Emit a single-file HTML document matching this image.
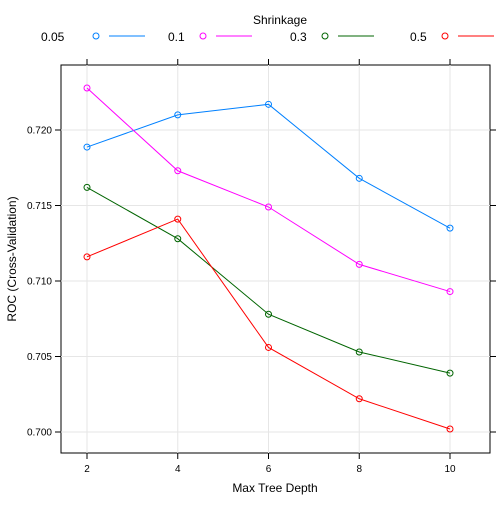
<!DOCTYPE html>
<html><head><meta charset="utf-8"><style>
body{margin:0;background:#fff;}
svg{font-family:"Liberation Sans",sans-serif;}
</style></head><body>
<svg id="chart" width="504" height="504" xmlns="http://www.w3.org/2000/svg">
<text x="280" y="24" font-size="12" text-anchor="middle">Shrinkage</text>
<g id="legend"></g>
<rect x="61" y="65" width="429" height="388" fill="none" stroke="#000" stroke-width="1"/>
<g id="grid"></g><g id="axes"></g><g id="series"></g>
<text x="275" y="492" font-size="12" text-anchor="middle">Max Tree Depth</text>
<text transform="translate(16,259) rotate(-90)" font-size="12" text-anchor="middle">ROC (Cross-Validation)</text>
</svg>
<script>
const depths=[2,4,6,8,10];
const seriesNames=["0.05","0.1","0.3","0.5"];
const s005=[0.71887,0.7210,0.7217,0.7168,0.7135];
const s01=[0.72278,0.7173,0.7149,0.7111,0.7093];
const s03=[0.7162,0.7128,0.7078,0.7053,0.7039];
const s05=[0.7116,0.7141,0.7056,0.7022,0.7002];
const xTicks=[2,4,6,8,10];
const yTicks=[0.700,0.705,0.710,0.715,0.720];
const colors=["#0080ff","#ff00ff","#006400","#ff0000"];
const allSeries=[s005,s01,s03,s05];
const NS="http://www.w3.org/2000/svg";
function xS(v){return 87+(v-2)*(450-87)/8;}
function yS(v){return 432-(v-0.700)*(432-130)/0.020;}
function mk(t,a,p){const e=document.createElementNS(NS,t);for(const k in a)e.setAttribute(k,a[k]);p.appendChild(e);return e;}
const grid=document.getElementById('grid'),axes=document.getElementById('axes'),ser=document.getElementById('series'),leg=document.getElementById('legend');
xTicks.forEach(t=>{const x=xS(t);
 let g=mk('line',{x1:x,x2:x,y1:65,y2:453,stroke:'#e6e6e6'},grid);
 
 mk('line',{x1:x,x2:x,y1:453,y2:459,stroke:'#000'},axes);
 mk('line',{x1:x,x2:x,y1:65,y2:59,stroke:'#000'},axes);
 let tx=mk('text',{x:x,y:472,'font-size':10,'text-anchor':'middle'},axes);tx.textContent=t;
 });
yTicks.forEach(t=>{const y=yS(t);
 let g=mk('line',{x1:61,x2:490,y1:y,y2:y,stroke:'#e6e6e6'},grid);
 
 mk('line',{x1:55,x2:61,y1:y,y2:y,stroke:'#000'},axes);
 mk('line',{x1:490,x2:496,y1:y,y2:y,stroke:'#000'},axes);
 let tx=mk('text',{x:52,y:y+3.5,'font-size':10,'text-anchor':'end'},axes);tx.textContent=t.toFixed(3);
 });
allSeries.forEach((vals,i)=>{
 const pts=vals.map((v,j)=>xS(depths[j])+','+yS(v)).join(' ');
 let pl=mk('polyline',{points:pts,fill:'none',stroke:colors[i],'stroke-width':1},ser);
 
 vals.forEach((v,j)=>{let c=mk('circle',{cx:xS(depths[j]),cy:yS(v),r:3,fill:'none',stroke:colors[i]},ser);
  });
});
const legX=[41,168,290,410];
seriesNames.forEach((n,i)=>{const x=legX[i];
 let t=mk('text',{x:x,y:41,'font-size':12},leg);t.textContent=n;
 
 let c=mk('circle',{cx:x+55-(i?20:0)+(i?0:0),cy:36,r:3,fill:'none',stroke:colors[i]},leg);
 
 const cx=parseFloat(c.getAttribute('cx'));
 let l=mk('line',{x1:cx+13,x2:cx+49,y1:36,y2:36,stroke:colors[i]},leg);
 
});
</script>
</body></html>
